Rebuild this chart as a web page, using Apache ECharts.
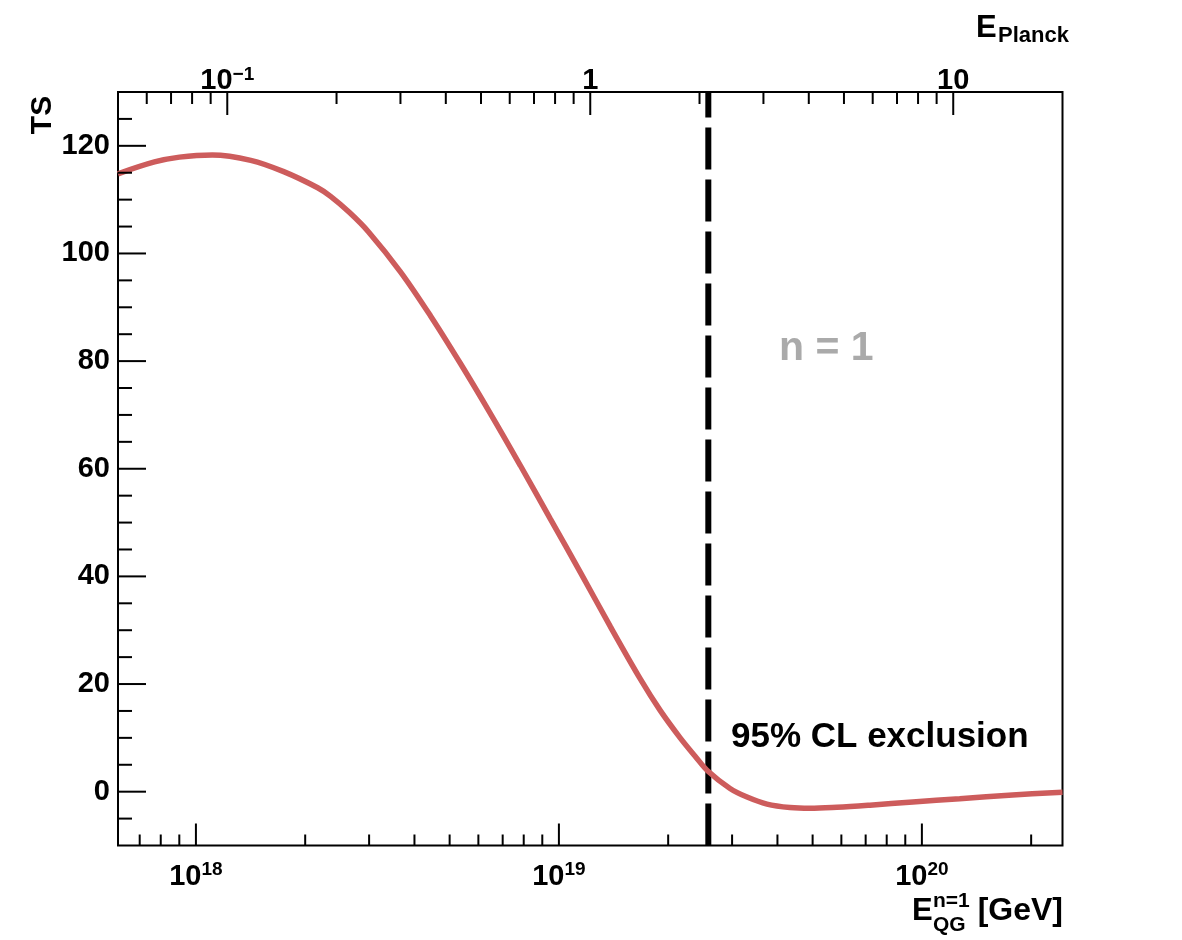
<!DOCTYPE html>
<html>
<head>
<meta charset="utf-8">
<script src="https://cdn.jsdelivr.net/npm/echarts@6/dist/echarts.min.js"></script>
<style>
html,body{margin:0;padding:0;background:#fff;}
#chart{width:1182px;height:940px;}
</style>
</head>
<body>
<div id="chart"></div>
<script>
// ---- data ----
const E_QG = [6.1e17, 7.69e17, 9.01e17, 1.11e18, 1.416e18, 1.745e18, 2.165e18, 2.35e18,
  2.65e18, 2.99e18, 3.66e18, 4.43e18, 5.35e18, 6.47e18, 7.83e18, 9.47e18, 1.145e19, 1.385e19,
  1.674e19, 1.901e19, 2.158e19, 2.373e19, 2.576e19, 2.961e19, 3.299e19, 3.744e19,
  4.33e19, 4.915e19, 5.833e19, 7.19e19, 9.44e19, 1.271e20, 1.778e20, 2.44e20];
const TS = [114.8, 117.0, 117.9, 118.3, 117.3, 115.2, 112.2, 110.6,
  107.6, 104.0, 96.6, 88.4, 79.6, 70.3, 60.6, 50.7, 40.8, 30.7,
  21.0, 15.1, 10.0, 6.6, 3.8, 0.6, -1.0, -2.3,
  -2.95, -3.1, -2.9, -2.5, -1.9, -1.3, -0.6, -0.1];
const LIMIT_E = 2.58e19;            // 95% CL exclusion line
const X_RANGE = [6.1e17, 2.44e20];  // GeV
const PLANCK_RANGE = [0.05, 20];    // units of E_Planck
const Y_RANGE = [-10, 130];
const BOTTOM_MAJOR = [1e18, 1e19, 1e20];
const BOTTOM_MINOR = [7e17, 8e17, 9e17, 2e18, 3e18, 4e18, 5e18, 6e18, 7e18, 8e18, 9e18,
  2e19, 3e19, 4e19, 5e19, 6e19, 7e19, 8e19, 9e19, 2e20];
const TOP_MAJOR = [0.1, 1, 10];
const TOP_MINOR = [0.06, 0.07, 0.08, 0.09, 0.2, 0.3, 0.4, 0.5, 0.6, 0.7, 0.8, 0.9,
  2, 3, 4, 5, 6, 7, 8, 9];
const Y_MAJOR = [0, 20, 40, 60, 80, 100, 120];
const Y_MINOR = [-5, 5, 10, 15, 25, 30, 35, 45, 50, 55, 65, 70, 75, 85, 90, 95, 105, 110, 115, 125];

// ---- styling ----
const FONT = "'Liberation Sans', Helvetica, Arial, sans-serif";
const RED = '#cd5c5c';

function supLabel(v, topAxis) {
  const l = Math.log10(v), r = Math.round(l);
  if (Math.abs(l - r) > 1e-6) return '';
  if (topAxis && r === 0) return '{b|1}';
  if (topAxis && r === 1) return '{b|10}';
  return '{b|10}{s|' + String(r).replace('-', '\u2212') + '}';
}
const richLbl = {
  b: {fontSize: 29, fontWeight: 'bold', fontFamily: FONT, color: '#000', lineHeight: 32},
  s: {fontSize: 19, fontWeight: 'bold', fontFamily: FONT, color: '#000', lineHeight: 19, verticalAlign: 'top'}
};

function tickSeries(vals, major, kind) {
  return {
    type: 'custom',
    xAxisIndex: kind === 'top' ? 1 : 0, yAxisIndex: 0,
    silent: true, z: 5,
    data: vals.map(v => [v, major ? 1 : 0]),
    renderItem: function (params, api) {
      const cs = params.coordSys;
      const isMajor = api.value(1) === 1;
      const x = api.coord([api.value(0), Y_RANGE[0]])[0];
      let shape;
      if (kind === 'bottom') {
        const len = isMajor ? 22 : 11;
        shape = {x1: x, y1: cs.y + cs.height, x2: x, y2: cs.y + cs.height - len};
      } else {
        const len = isMajor ? 23 : 12;
        shape = {x1: x, y1: cs.y, x2: x, y2: cs.y + len};
      }
      return {type: 'line', shape: shape, style: {stroke: '#000', lineWidth: 2}};
    }
  };
}
function yTickSeries(vals, major) {
  return {
    type: 'custom', xAxisIndex: 0, yAxisIndex: 0, silent: true, z: 5,
    data: vals.map(v => [v, major ? 1 : 0]),
    encode: {x: -1, y: 0},
    renderItem: function (params, api) {
      const cs = params.coordSys;
      const y = api.coord([X_RANGE[0], api.value(0)])[1];
      const len = api.value(1) === 1 ? 28 : 14;
      return {type: 'line', shape: {x1: cs.x, y1: y, x2: cs.x + len, y2: y},
        style: {stroke: '#000', lineWidth: 2}};
    }
  };
}

const chart = echarts.init(document.getElementById('chart'), null, {renderer: 'canvas'});
const option = {
  backgroundColor: '#fff',
  animation: false,
  grid: {left: 118, right: 119.5, top: 92, bottom: 94.5, show: true,
    borderColor: '#000', borderWidth: 2, backgroundColor: 'transparent', containLabel: false},
  xAxis: [
    {type: 'log', logBase: 10, min: X_RANGE[0], max: X_RANGE[1], position: 'bottom',
      axisLine: {show: false}, axisTick: {show: false}, splitLine: {show: false},
      axisLabel: {margin: 15, formatter: v => supLabel(v, false), rich: richLbl,
        showMinLabel: true, showMaxLabel: true}},
    {type: 'log', logBase: 10, min: PLANCK_RANGE[0], max: PLANCK_RANGE[1], position: 'top',
      axisLine: {show: false}, axisTick: {show: false}, splitLine: {show: false},
      axisLabel: {margin: -5, formatter: v => supLabel(v, true), rich: richLbl}}
  ],
  yAxis: [
    {type: 'value', min: Y_RANGE[0], max: Y_RANGE[1], interval: 10,
      axisLine: {show: false}, axisTick: {show: false}, splitLine: {show: false},
      axisLabel: {margin: 8, fontSize: 29, fontWeight: 'bold', fontFamily: FONT, color: '#000',
        formatter: v => (v % 20 === 0 ? String(v) : '')}}
  ],
  series: [
    {type: 'line', name: 'limit', xAxisIndex: 0, yAxisIndex: 0, z: 3,
      data: [[LIMIT_E, Y_RANGE[0]], [LIMIT_E, Y_RANGE[1]]],
      showSymbol: false, silent: true,
      lineStyle: {color: '#000', width: 6, type: [42, 10], cap: 'butt'}},
    {type: 'line', name: 'TS', xAxisIndex: 0, yAxisIndex: 0, z: 4,
      data: E_QG.map((e, i) => [e, TS[i]]),
      showSymbol: false, smooth: 0.35, silent: true, clip: true,
      lineStyle: {color: RED, width: 5.5}},
    tickSeries(BOTTOM_MAJOR, true, 'bottom'),
    tickSeries(BOTTOM_MINOR, false, 'bottom'),
    tickSeries(TOP_MAJOR, true, 'top'),
    tickSeries(TOP_MINOR, false, 'top'),
    yTickSeries(Y_MAJOR, true),
    yTickSeries(Y_MINOR, false)
  ],
  graphic: [
    {type: 'text', x: 43, y: 115, rotation: Math.PI / 2,
      style: {text: 'TS', font: 'bold 30px ' + FONT, fill: '#000', textAlign: 'center', textVerticalAlign: 'middle'}},
    {type: 'text', x: 976, y: 28,
      style: {text: 'E', font: 'bold 31px ' + FONT, fill: '#000', textAlign: 'left', textVerticalAlign: 'middle'}},
    {type: 'text', x: 998, y: 36,
      style: {text: 'Planck', font: 'bold 22px ' + FONT, fill: '#000', textAlign: 'left', textVerticalAlign: 'middle'}},
    {type: 'text', x: 912, y: 911,
      style: {text: 'E', font: 'bold 31px ' + FONT, fill: '#000', textAlign: 'left', textVerticalAlign: 'middle'}},
    {type: 'text', x: 933, y: 901,
      style: {text: 'n=1', font: 'bold 21px ' + FONT, fill: '#000', textAlign: 'left', textVerticalAlign: 'middle'}},
    {type: 'text', x: 933, y: 925,
      style: {text: 'QG', font: 'bold 21px ' + FONT, fill: '#000', textAlign: 'left', textVerticalAlign: 'middle'}},
    {type: 'text', x: 1063, y: 911,
      style: {text: '[GeV]', font: 'bold 32px ' + FONT, fill: '#000', textAlign: 'right', textVerticalAlign: 'middle'}},
    {type: 'text', x: 779, y: 349,
      style: {text: 'n = 1', font: 'bold 41px ' + FONT, fill: '#aaaaaa', textAlign: 'left', textVerticalAlign: 'middle'}},
    {type: 'text', x: 731, y: 737,
      style: {text: '95% CL exclusion', font: 'bold 35px ' + FONT, fill: '#000', textAlign: 'left', textVerticalAlign: 'middle'}}
  ]
};
chart.setOption(option);
</script>
</body>
</html>
